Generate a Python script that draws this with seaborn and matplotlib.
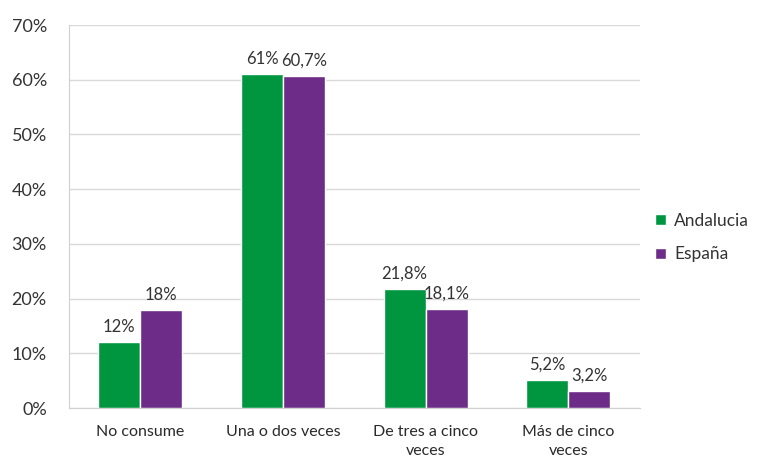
import matplotlib
matplotlib.use("Agg")
import matplotlib.pyplot as plt
import pandas as pd
import seaborn as sns

# Chart data
categories = ["No consume", "Una o dos veces", "De tres a cinco\nveces", "Más de cinco\nveces"]
andalucia = [12.0, 61.0, 21.8, 5.2]
espana = [18.0, 60.7, 18.1, 3.2]
labels_andalucia = ["12%", "61%", "21,8%", "5,2%"]
labels_espana = ["18%", "60,7%", "18,1%", "3,2%"]
y_ticks = [0, 10, 20, 30, 40, 50, 60, 70]

COLORS = {"Andalucia": "#009640", "España": "#6c2c87"}

df = pd.concat([
    pd.DataFrame({"cat": categories, "region": "Andalucia", "value": andalucia}),
    pd.DataFrame({"cat": categories, "region": "España", "value": espana}),
])

sns.set_style("white")
plt.rcParams["font.family"] = ["Lato", "DejaVu Sans"]

fig = plt.figure(figsize=(7.67, 4.59), dpi=100)
ax = fig.add_axes([0.09, 0.111, 0.744, 0.8345])

sns.barplot(data=df, x="cat", y="value", hue="region", palette=COLORS,
            width=0.59, saturation=1, ax=ax, legend=True)

for container, labs in zip(ax.containers, [labels_andalucia, labels_espana]):
    ax.bar_label(container, labels=labs, padding=5, fontsize=12, color="#333333")

ax.set_ylim(0, 70)
ax.set_yticks(y_ticks)
ax.set_yticklabels([f"{t}%" for t in y_ticks], fontsize=13, color="#333333")
ax.tick_params(axis="y", length=6, color="#d0d0d0", pad=10)
ax.set_xticks(range(len(categories)))
ax.set_xticklabels(categories, fontsize=11.5, color="#2a2a2a", linespacing=1.45)
ax.tick_params(axis="x", length=6, color="#d0d0d0", pad=6)
ax.set_xlim(-0.5, 3.5)
ax.grid(axis="y", color="#d9d9d9", linewidth=1)
ax.set_axisbelow(True)
ax.set_xlabel("")
ax.set_ylabel("")
for side in ["top", "right"]:
    ax.spines[side].set_visible(False)
ax.spines["left"].set_color("#d0d0d0")
ax.spines["bottom"].set_color("#d0d0d0")

leg = ax.legend(loc="center left", bbox_to_anchor=(1.0, 0.445), frameon=False,
                fontsize=12.5, handlelength=0.6, handleheight=0.6,
                handletextpad=0.5, labelspacing=1.0)
for t in leg.get_texts():
    t.set_color("#333333")

fig.savefig("out.png", dpi=100)
